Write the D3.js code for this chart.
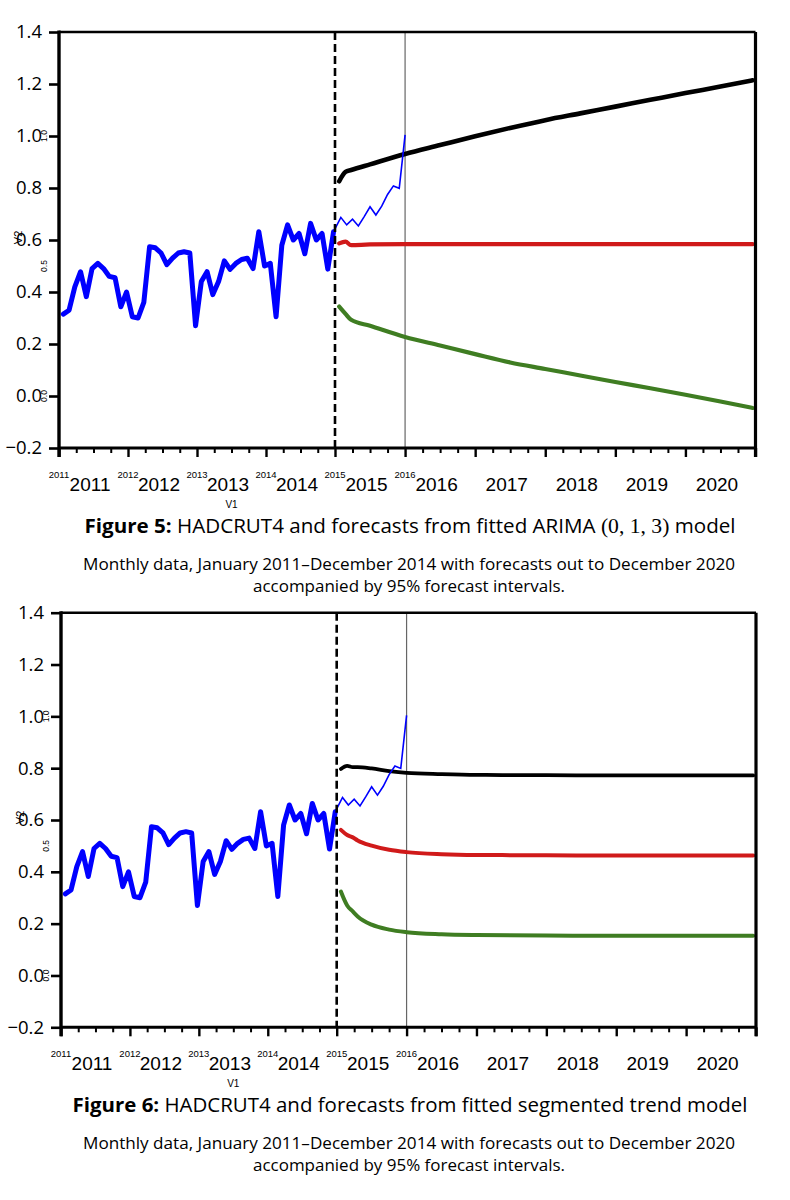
<!DOCTYPE html>
<html><head><meta charset="utf-8">
<script src="https://cdn.jsdelivr.net/npm/d3@7"></script>
<style>body{margin:0;background:#fff}</style>
</head><body>
<svg id="c" width="790" height="1200" xmlns="http://www.w3.org/2000/svg"></svg>
<script>
// ---------- data ----------
// HADCRUT4 monthly anomalies, Jan 2011 – Dec 2014
const obsValues = [
  0.315, 0.33, 0.42, 0.478, 0.382, 0.49, 0.51, 0.49, 0.46, 0.455, 0.343, 0.40,
  0.305, 0.30, 0.36, 0.574, 0.57, 0.55, 0.505, 0.53, 0.55, 0.555, 0.55, 0.27,
  0.44, 0.478, 0.39, 0.44, 0.52, 0.487, 0.51, 0.525, 0.53, 0.49, 0.632, 0.50,
  0.51, 0.305, 0.58, 0.658, 0.60, 0.625, 0.547, 0.664, 0.60, 0.625, 0.488, 0.632
];
// HADCRUT4 monthly 2015 (thin blue line)
const obs2015Values = [0.687, 0.658, 0.68, 0.654, 0.69, 0.728, 0.696, 0.73, 0.775, 0.808, 0.799, 1.004];

const yTicks = [-0.2, 0.0, 0.2, 0.4, 0.6, 0.8, 1.0, 1.2, 1.4];
const yearLabels = [2011, 2012, 2013, 2014, 2015, 2016, 2017, 2018, 2019, 2020];
const smallYearLabels = [2011, 2012, 2013, 2014, 2015, 2016];
const overlayTicks = [0.0, 0.5, 1.0];

// Figure 5: ARIMA(0,1,3) forecasts
const fcTimes1 = [2015.06, 2015.15, 2015.23, 2015.5, 2016.0, 2016.5, 2017.0, 2017.5, 2018.0, 2018.5, 2019.0, 2019.5, 2020.0, 2020.5, 2020.96];
const fcUpper1 = [0.826, 0.862, 0.869, 0.891, 0.931, 0.965, 0.999, 1.031, 1.061, 1.087, 1.113, 1.139, 1.165, 1.190, 1.214];
const fcMean1  = [0.587, 0.594, 0.580, 0.583, 0.584, 0.584, 0.584, 0.584, 0.584, 0.584, 0.584, 0.584, 0.584, 0.584, 0.584];
const fcLower1 = [0.344, 0.316, 0.293, 0.270, 0.227, 0.194, 0.161, 0.129, 0.104, 0.079, 0.054, 0.030, 0.005, -0.021, -0.046];

// Figure 6: segmented trend forecasts
const fcTimes2 = [2015.06, 2015.15, 2015.23, 2015.3, 2015.5, 2015.75, 2016.0, 2016.5, 2017.0, 2018.0, 2019.0, 2020.0, 2020.96];
const fcUpper2 = [0.797, 0.809, 0.804, 0.804, 0.799, 0.789, 0.782, 0.777, 0.774, 0.773, 0.772, 0.772, 0.772];
const fcMean2  = [0.562, 0.542, 0.533, 0.521, 0.501, 0.485, 0.476, 0.468, 0.465, 0.464, 0.463, 0.463, 0.463];
const fcLower2 = [0.324, 0.270, 0.247, 0.228, 0.196, 0.177, 0.167, 0.159, 0.156, 0.154, 0.153, 0.153, 0.153];

const captionBold1 = "Figure 5:";
const captionText1 = " HADCRUT4 and forecasts from fitted ARIMA ";
const captionMath1 = "(0, 1, 3)";
const captionTail1 = " model";
const captionBold2 = "Figure 6:";
const captionText2 = " HADCRUT4 and forecasts from fitted segmented trend model";
const subtitle1 = "Monthly data, January 2011\u2013December 2014 with forecasts out to December 2020";
const subtitle2 = "accompanied by 95% forecast intervals.";

// ---------- drawing ----------
const svg = d3.select("#c");
svg.append("rect").attr("width", 790).attr("height", 1200).attr("fill", "#fff");

const SANS = "'Open Sans', 'Noto Sans', sans-serif";
const RSANS = "'Liberation Sans', Arial, sans-serif";

function drawChart(cfg) {
  const g = svg.append("g");
  const x = d3.scaleLinear().domain([2011, 2015, 2021]).range([cfg.left, cfg.mid, cfg.right]);
  const y = d3.scaleLinear().domain([-0.2, 1.4]).range([cfg.bottom, cfg.top]);

  // 2016 thin vertical reference line
  g.append("line").attr("x1", x(2016)).attr("x2", x(2016))
    .attr("y1", cfg.top).attr("y2", cfg.bottom)
    .attr("stroke", "#666").attr("stroke-width", 1.2);

  const lineGen = d3.line().x(d => x(d.t)).y(d => y(d.v));
  const smooth = d3.line().x(d => x(d.t)).y(d => y(d.v)).curve(d3.curveMonotoneX);

  const fc = (vals) => cfg.times.map((t, i) => ({ t, v: vals[i] }));
  g.append("path").datum(fc(cfg.lower)).attr("d", smooth)
    .attr("fill", "none").attr("stroke", "#3f7d22").attr("stroke-width", cfg.fcWidth)
    .attr("stroke-linecap", "round").attr("stroke-linejoin", "round");
  g.append("path").datum(fc(cfg.mean)).attr("d", smooth)
    .attr("fill", "none").attr("stroke", "#d01a1a").attr("stroke-width", cfg.fcWidth)
    .attr("stroke-linecap", "round").attr("stroke-linejoin", "round");
  g.append("path").datum(fc(cfg.upper)).attr("d", smooth)
    .attr("fill", "none").attr("stroke", "#000").attr("stroke-width", cfg.upWidth)
    .attr("stroke-linecap", "round").attr("stroke-linejoin", "round");

  // observed thick line
  const obs = obsValues.map((v, i) => ({ t: 2011 + (i + 0.75) / 12, v }));
  g.append("path").datum(obs).attr("d", lineGen)
    .attr("fill", "none").attr("stroke", "#0000ff").attr("stroke-width", 5)
    .attr("stroke-linejoin", "round").attr("stroke-linecap", "round");
  // 2015 thin line
  const obs2 = [obs[obs.length - 1]].concat(obs2015Values.map((v, m) => ({ t: 2015 + (m + 1) / 12, v })));
  g.append("path").datum(obs2).attr("d", lineGen)
    .attr("fill", "none").attr("stroke", "#0000ff").attr("stroke-width", 1.6)
    .attr("stroke-linejoin", "miter");

  // dashed 2015 line
  g.append("line").attr("x1", x(2015)).attr("x2", x(2015))
    .attr("y1", cfg.top).attr("y2", cfg.bottom)
    .attr("stroke", "#000").attr("stroke-width", 2.6).attr("stroke-dasharray", "8,4");

  // frame
  g.append("line").attr("x1", cfg.left).attr("x2", cfg.right).attr("y1", cfg.top).attr("y2", cfg.top)
    .attr("stroke", "#000").attr("stroke-width", 2.6);
  g.append("line").attr("x1", cfg.right).attr("x2", cfg.right).attr("y1", cfg.top).attr("y2", cfg.bottom + 9)
    .attr("stroke", "#000").attr("stroke-width", 3.2);
  g.append("line").attr("x1", cfg.left).attr("x2", cfg.right).attr("y1", cfg.bottom).attr("y2", cfg.bottom)
    .attr("stroke", "#000").attr("stroke-width", 3);
  g.append("line").attr("x1", cfg.left).attr("x2", cfg.left).attr("y1", cfg.top - 1.5).attr("y2", cfg.bottom + 9)
    .attr("stroke", "#000").attr("stroke-width", 3.4);

  // y axis
  const ya = g.append("g").attr("transform", `translate(${cfg.left},0)`)
    .call(d3.axisLeft(y).tickValues(yTicks).tickSize(10).tickPadding(7).tickFormat(d3.format(".1f")));
  ya.select(".domain").remove();
  ya.selectAll(".tick line").attr("stroke", "#000").attr("stroke-width", 2.6);
  ya.selectAll(".tick text").attr("font-family", SANS).attr("font-size", 18.5).attr("fill", "#000");

  // x axis: quarterly minor ticks, yearly major ticks
  const quarters = d3.range(2011, 2021.01, 0.25).filter(q => Math.abs(q - Math.round(q)) > 0.01);
  const xa1 = g.append("g").attr("transform", `translate(0,${cfg.bottom})`)
    .call(d3.axisBottom(x).tickValues(quarters).tickSize(5).tickFormat(""));
  xa1.select(".domain").remove();
  xa1.selectAll(".tick line").attr("stroke", "#000").attr("stroke-width", 2);
  const years = d3.range(2011, 2022);
  const xa2 = g.append("g").attr("transform", `translate(0,${cfg.bottom})`)
    .call(d3.axisBottom(x).tickValues(years).tickSize(9).tickFormat(""));
  xa2.select(".domain").remove();
  xa2.selectAll(".tick line").attr("stroke", "#000").attr("stroke-width", 2.4);

  // small overlay year labels at ticks
  g.selectAll(".sy").data(smallYearLabels).enter().append("text")
    .attr("x", d => x(d)).attr("y", cfg.bottom + 30)
    .attr("text-anchor", "middle").attr("font-family", RSANS).attr("font-size", 9.5)
    .attr("fill", "#000").text(d => d);
  // big year labels
  g.selectAll(".by").data(yearLabels).enter().append("text")
    .attr("x", d => x(d + 0.45)).attr("y", cfg.bottom + 43)
    .attr("text-anchor", "middle").attr("font-family", RSANS).attr("font-size", 19)
    .attr("fill", "#000").text(d => d);
  // V1 label
  g.append("text").attr("x", x(2013.5)).attr("y", cfg.bottom + 60)
    .attr("text-anchor", "middle").attr("font-family", RSANS).attr("font-size", 10)
    .attr("fill", "#000").text("V1");

  // overlay rotated tick labels and V2
  g.selectAll(".oy").data(overlayTicks).enter().append("text")
    .attr("transform", d => `translate(${cfg.left - 12},${y(d)}) rotate(-90)`)
    .attr("text-anchor", "middle").attr("font-family", RSANS).attr("font-size", 8.5)
    .attr("fill", "#000").text(d => d3.format(".1f")(d));
  g.append("text").attr("transform", `translate(${cfg.left - 37},${y(0.61)}) rotate(-90)`)
    .attr("text-anchor", "middle").attr("font-family", RSANS).attr("font-size", 11)
    .attr("fill", "#000").text("V2");

  // caption
  const cap = g.append("text").attr("x", 410).attr("y", cfg.bottom + 85)
    .attr("text-anchor", "middle").attr("font-family", SANS).attr("font-size", 20)
    .attr("fill", "#000")
    .attr("textLength", cfg.capWidth).attr("lengthAdjust", "spacingAndGlyphs");
  cap.append("tspan").attr("font-weight", "bold").text(cfg.capBold);
  cap.append("tspan").text(cfg.capText);
  if (cfg.capMath) {
    cap.append("tspan").attr("font-family", "'Liberation Serif', 'DejaVu Serif', serif").attr("font-size", 21).text(cfg.capMath);
    cap.append("tspan").text(cfg.capTail);
  }
  g.append("text").attr("x", 409).attr("y", cfg.bottom + 122)
    .attr("text-anchor", "middle").attr("font-family", SANS).attr("font-size", 16)
    .attr("fill", "#000").attr("textLength", 652).attr("lengthAdjust", "spacingAndGlyphs")
    .text(subtitle1);
  g.append("text").attr("x", 409).attr("y", cfg.bottom + 144)
    .attr("text-anchor", "middle").attr("font-family", SANS).attr("font-size", 16)
    .attr("fill", "#000").attr("textLength", 312).attr("lengthAdjust", "spacingAndGlyphs")
    .text(subtitle2);
}

drawChart({
  left: 59, mid: 335, right: 755.5, top: 32, bottom: 448,
  times: fcTimes1, upper: fcUpper1, mean: fcMean1, lower: fcLower1,
  fcWidth: 4.2, upWidth: 4.6,
  capBold: captionBold1, capText: captionText1, capMath: captionMath1, capTail: captionTail1,
  capWidth: 651
});
drawChart({
  left: 61, mid: 336.7, right: 756, top: 612.7, bottom: 1027.3,
  times: fcTimes2, upper: fcUpper2, mean: fcMean2, lower: fcLower2,
  fcWidth: 4, upWidth: 3.8,
  capBold: captionBold2, capText: captionText2, capMath: null, capTail: null,
  capWidth: 675
});
</script>
</body></html>
